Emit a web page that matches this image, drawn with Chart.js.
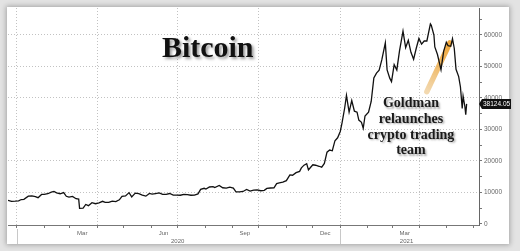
<!DOCTYPE html>
<html><head><meta charset="utf-8">
<script src="https://cdn.jsdelivr.net/npm/chart.js@4.4.1/dist/chart.umd.min.js"></script>
<style>
html,body{margin:0;padding:0;width:520px;height:251px;overflow:hidden;background:#e3e3e3;}
#panel{position:absolute;left:7px;top:7px;width:502px;height:237px;background:#fff;box-shadow:0 0 5px 1px rgba(0,0,0,0.28);}
#wrap{position:absolute;left:0;top:0;width:520px;height:251px;}
</style></head><body>
<div id="panel"></div>
<div id="wrap"><canvas id="c" width="520" height="251"></canvas></div>
<script>
const dates = [
'2019-12-22','2019-12-26','2019-12-30','2020-01-03','2020-01-06','2020-01-09','2020-01-14','2020-01-18','2020-01-22','2020-01-25','2020-01-29',
'2020-02-01','2020-02-05','2020-02-09','2020-02-12','2020-02-15','2020-02-19','2020-02-23','2020-02-26','2020-02-29',
'2020-03-04','2020-03-08','2020-03-11','2020-03-12','2020-03-16','2020-03-19','2020-03-22','2020-03-26','2020-03-30',
'2020-04-03','2020-04-07','2020-04-10','2020-04-14','2020-04-18','2020-04-22','2020-04-26','2020-04-29',
'2020-05-03','2020-05-07','2020-05-10','2020-05-14','2020-05-18','2020-05-22','2020-05-26','2020-05-30',
'2020-06-02','2020-06-06','2020-06-10','2020-06-14','2020-06-18','2020-06-22','2020-06-26','2020-06-30',
'2020-07-04','2020-07-08','2020-07-12','2020-07-16','2020-07-20','2020-07-24','2020-07-27','2020-07-31',
'2020-08-02','2020-08-06','2020-08-10','2020-08-12','2020-08-17','2020-08-21','2020-08-25','2020-08-29',
'2020-09-02','2020-09-05','2020-09-09','2020-09-13','2020-09-17','2020-09-21','2020-09-25','2020-09-29',
'2020-10-03','2020-10-07','2020-10-10','2020-10-14','2020-10-18','2020-10-21','2020-10-24','2020-10-28',
'2020-11-01','2020-11-05','2020-11-08','2020-11-12','2020-11-16','2020-11-18','2020-11-21','2020-11-24','2020-11-26','2020-11-29',
'2020-12-01','2020-12-04','2020-12-08','2020-12-11','2020-12-14','2020-12-17','2020-12-20','2020-12-23','2020-12-26','2020-12-29',
'2021-01-01','2021-01-03','2021-01-06','2021-01-08','2021-01-11','2021-01-14','2021-01-17','2021-01-20','2021-01-22','2021-01-25','2021-01-27','2021-01-29',
'2021-02-02','2021-02-05','2021-02-08','2021-02-11','2021-02-14','2021-02-17','2021-02-21','2021-02-23','2021-02-26','2021-02-28',
'2021-03-03','2021-03-06','2021-03-09','2021-03-13','2021-03-16','2021-03-19','2021-03-22','2021-03-25','2021-03-28','2021-03-31',
'2021-04-03','2021-04-06','2021-04-09','2021-04-13','2021-04-14','2021-04-17','2021-04-18','2021-04-21','2021-04-25','2021-04-28',
'2021-05-01','2021-05-03','2021-05-06','2021-05-08','2021-05-10','2021-05-12','2021-05-15','2021-05-17','2021-05-19','2021-05-20','2021-05-22','2021-05-23','2021-05-24'
];
const prices = [
7500,7200,7260,7350,7770,7820,8830,8900,8660,8350,9390,
9390,9610,10140,10370,9900,9600,9980,8800,8560,
8760,8030,7910,4970,5010,6190,5830,6760,6430,
6730,7200,6860,6840,7260,7130,7690,8800,
8900,9950,8600,9790,9670,9170,8840,9700,
9460,9670,9870,9390,9390,9680,9160,9140,
9130,9430,9290,9130,9160,9550,11000,11330,
11070,11750,11880,11550,12250,11500,11370,11700,
11400,10200,10220,10330,10950,10420,10750,10840,
10560,10670,11300,11430,11500,12800,13030,13270,
13740,15570,15480,16300,16700,17800,18680,19160,17150,18180,
18800,18650,18330,18050,19250,22800,23480,23240,26440,27370,
29370,32100,36820,40800,35500,39190,35800,35500,33000,32300,30400,34300,
35500,38900,46400,47900,48800,52100,57500,48900,46300,45200,
50600,48900,54900,61200,56000,58300,54500,52300,55800,58900,
57100,58100,58100,63500,63100,60000,56200,53800,49000,54800,
57700,56600,56400,58800,55800,49100,46800,43500,36700,40600,37300,34700,38124.05
];
const xRange = ['2019-12-22','2021-06-07'];
const quarterStarts = ['2020-01-01','2020-04-01','2020-07-01','2020-10-01','2021-01-01','2021-04-01'];
const monthStarts = ['2020-01-01','2020-02-01','2020-03-01','2020-04-01','2020-05-01','2020-06-01','2020-07-01','2020-08-01','2020-09-01','2020-10-01','2020-11-01','2020-12-01','2021-01-01','2021-02-01','2021-03-01','2021-04-01','2021-05-01','2021-06-01'];
const monthLabelDates = ['2020-03-15','2020-06-15','2020-09-15','2020-12-15','2021-03-15'];
const monthLabels = ['Mar','Jun','Sep','Dec','Mar'];
const yearLabelDates = ['2020-07-01','2021-03-17'];
const yearLabels = ['2020','2021'];
const yearStarts = ['2020-01-01','2021-01-01'];
const yTickValues = [0,5000,10000,15000,20000,25000,30000,35000,40000,45000,50000,55000,60000,65000];
const yRange = [-320, 68570];
const titleText = 'Bitcoin';
const titleAnchor = ['2020-08-04', 53000];
const noteLines = ['Goldman','relaunches','crypto trading','team'];
const noteAnchor = ['2021-03-22', 37100];
const highlight = [['2021-04-09', 42000], ['2021-05-05', 57500]];
const lastLabel = '38124.05';

const BASE = Date.UTC(2020,0,1);
const day = s => (Date.parse(s + 'T00:00:00Z') - BASE) / 86400000;
const quarterSet = new Set(quarterStarts.map(day));
const monthSet = new Set(monthStarts.map(day));
const labelMap = {};
monthLabelDates.forEach((d,i)=>{ labelMap[day(d)] = monthLabels[i]; });
const xTickDays = monthStarts.map(day).concat(monthLabelDates.map(day)).sort((a,b)=>a-b);

const deco = {
  id: 'deco',
  beforeDatasetsDraw(chart) {
    const {ctx, scales:{x, y}} = chart;
    const x1 = x.getPixelForValue(day(highlight[0][0])), y1 = y.getPixelForValue(highlight[0][1]);
    const x2 = x.getPixelForValue(day(highlight[1][0])), y2 = y.getPixelForValue(highlight[1][1]);
    const g = ctx.createLinearGradient(x1, y1, x2, y2);
    g.addColorStop(0, 'rgba(232,185,110,0.55)');
    g.addColorStop(0.5, 'rgba(236,170,70,0.8)');
    g.addColorStop(1, 'rgba(240,160,40,0.9)');
    ctx.save();
    ctx.strokeStyle = g; ctx.lineWidth = 5.5; ctx.lineCap = 'round';
    ctx.beginPath(); ctx.moveTo(x1, y1); ctx.lineTo(x2, y2); ctx.stroke();
    ctx.restore();
  },
  afterDraw(chart) {
    const {ctx, chartArea, scales:{x, y}} = chart;
    ctx.save();
    ctx.strokeStyle = '#c8c8c8'; ctx.lineWidth = 1;
    yearStarts.forEach(d => {
      const px = Math.round(x.getPixelForValue(day(d))) + 0.5;
      ctx.beginPath(); ctx.moveTo(px, chartArea.bottom + 4); ctx.lineTo(px, 244); ctx.stroke();
    });
    ctx.font = 'bold 30px "Liberation Serif", serif';
    ctx.textAlign = 'center'; ctx.textBaseline = 'alphabetic';
    ctx.shadowColor = 'rgba(0,0,0,0.4)'; ctx.shadowOffsetX = 2; ctx.shadowOffsetY = 2; ctx.shadowBlur = 3;
    ctx.fillStyle = '#111';
    ctx.fillText(titleText, x.getPixelForValue(day(titleAnchor[0])), y.getPixelForValue(titleAnchor[1]));
    ctx.font = 'bold 14px "Liberation Serif", serif';
    ctx.shadowColor = 'rgba(0,0,0,0.35)'; ctx.shadowOffsetX = 1.5; ctx.shadowOffsetY = 1.5; ctx.shadowBlur = 2;
    ctx.fillStyle = '#1a1a1a';
    const nx = x.getPixelForValue(day(noteAnchor[0])), ny = y.getPixelForValue(noteAnchor[1]);
    noteLines.forEach((t, i) => ctx.fillText(t, nx, ny + i * 15.7));
    ctx.restore();
    ctx.save();
    const last = prices[prices.length - 1];
    const ty = y.getPixelForValue(last);
    const tx = chartArea.right + 2;
    ctx.fillStyle = '#111';
    ctx.beginPath();
    ctx.moveTo(tx - 2, ty);
    ctx.lineTo(tx + 1, ty - 5);
    ctx.lineTo(tx + 30, ty - 5);
    ctx.lineTo(tx + 30, ty + 5);
    ctx.lineTo(tx + 1, ty + 5);
    ctx.closePath(); ctx.fill();
    ctx.fillStyle = '#fff';
    ctx.font = '6.5px "Liberation Sans", sans-serif';
    ctx.textAlign = 'left'; ctx.textBaseline = 'middle';
    ctx.fillText(lastLabel, tx + 2, ty + 0.5);
    ctx.restore();
  }
};

new Chart(document.getElementById('c'), {
  type: 'line',
  data: {
    datasets: [{
      data: dates.map((d, i) => ({x: day(d), y: prices[i]})),
      borderColor: '#111', borderWidth: 1.3, pointRadius: 0, tension: 0, fill: false,
      xAxisID: 'x', yAxisID: 'y'
    }]
  },
  options: {
    responsive: false, animation: false, devicePixelRatio: 1,
    layout: {padding: {left: 8, top: 8, right: 0, bottom: 0}},
    plugins: {legend: {display: false}, tooltip: {enabled: false}},
    scales: {
      x: {
        type: 'linear', position: 'bottom', min: day(xRange[0]), max: day(xRange[1]),
        afterBuildTicks: s => { s.ticks = xTickDays.map(v => ({value: v})); },
        afterFit: s => { s.height = 13; },
        grid: {
          color: c => (c.tick && quarterSet.has(c.tick.value)) ? '#c2c2c2' : 'rgba(0,0,0,0)',
          tickColor: c => (c.tick && monthSet.has(c.tick.value)) ? '#777' : 'rgba(0,0,0,0)',
          tickLength: 3, lineWidth: 1
        },
        border: {color: '#777', dash: [1, 2]},
        ticks: {autoSkip: false, maxRotation: 0, padding: 2, color: '#666',
          font: {size: 6, family: '"Liberation Sans", sans-serif'},
          callback: v => labelMap[v] || ''}
      },
      xy: {
        type: 'linear', position: 'bottom', min: day(xRange[0]), max: day(xRange[1]),
        afterBuildTicks: s => { s.ticks = yearLabelDates.map(d => ({value: day(d)})); },
        afterFit: s => { s.height = 13; },
        grid: {display: false, drawTicks: false, tickLength: 0},
        border: {display: false},
        ticks: {autoSkip: false, maxRotation: 0, padding: 0, color: '#666',
          font: {size: 6, family: '"Liberation Sans", sans-serif'},
          callback: (v, i) => yearLabels[i]}
      },
      y: {
        position: 'right', min: yRange[0], max: yRange[1],
        afterBuildTicks: s => { s.ticks = yTickValues.map(v => ({value: v})); },
        afterFit: s => { s.width = 41; },
        grid: {
          color: c => (c.tick && c.tick.value % 10000 === 0 && c.tick.value > 0) ? '#c2c2c2' : 'rgba(0,0,0,0)',
          tickColor: '#777', tickLength: 3, lineWidth: 1
        },
        border: {color: '#666', dash: [1, 2]},
        ticks: {autoSkip: false, padding: 2, color: '#666',
          font: {size: 6.5, family: '"Liberation Sans", sans-serif'},
          callback: v => (v % 10000 === 0 ? String(v) : '')}
      }
    }
  },
  plugins: [deco]
});
</script>
</body></html>
